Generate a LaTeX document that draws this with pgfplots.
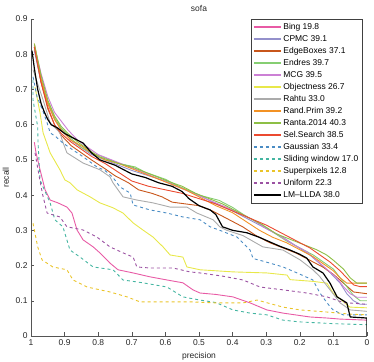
\documentclass[border=0pt]{standalone}
\usepackage{fontspec}
\setmainfont{Liberation Sans}
\usepackage{pgfplots}
\pgfplotsset{compat=1.18}
\definecolor{cBing}{HTML}{E85AA5}
\definecolor{cCPMC}{HTML}{9490CB}
\definecolor{cEdge}{HTML}{C8561B}
\definecolor{cEndres}{HTML}{86CE72}
\definecolor{cMCG}{HTML}{CC80D5}
\definecolor{cObj}{HTML}{E8E84A}
\definecolor{cRahtu}{HTML}{ABABAB}
\definecolor{cRand}{HTML}{F39224}
\definecolor{cRanta}{HTML}{8DBF45}
\definecolor{cSel}{HTML}{EB4A30}
\definecolor{cGauss}{HTML}{4A8CC4}
\definecolor{cSlide}{HTML}{44B5A1}
\definecolor{cSuper}{HTML}{EAC42A}
\definecolor{cUni}{HTML}{9B51A2}
\definecolor{cAxis}{HTML}{555555}

\begin{document}
\begin{tikzpicture}
\begin{axis}[
  name=ax,
  scale only axis,
  width=336bp, height=317bp,
  x dir=reverse,
  xmin=0, xmax=1, ymin=0, ymax=0.9,
  xtick={0,0.1,...,1}, ytick={0,0.1,...,0.9},
  axis lines*=left,
  axis line style={cAxis, line width=0.5pt},
  tick style={cAxis, line width=0.5pt},
  tick align=inside,
  major tick length=3.5bp,
  tick label style={font=\fontsize{8.5}{10}\selectfont, text=black!85},
  /pgf/number format/assume math mode=true,
  xlabel={precision}, ylabel={recall},
  label style={font=\fontsize{8.5}{10}\selectfont, text=black!85},
  title={sofa},
  title style={font=\fontsize{8.5}{10}\selectfont, text=black!85, yshift=-2bp},
  legend cell align=left,
  legend style={name=leg, at={(rel axis cs:0.985,1.0)}, anchor=north east,
    draw=none, fill=white, font=\fontsize{8.5}{10}\selectfont,
    row sep=0pt, inner sep=2bp,
    nodes={text height=7bp, text depth=2bp, inner sep=1.5bp}},
  legend image code/.code={\draw[#1, line width=1.9pt] plot coordinates {(0bp,0bp) (27bp,0bp)};},
  every axis plot/.append style={line width=0.9pt, line join=round},
]
\addplot[color=cBing] coordinates {
(0.99,0.55) (0.985,0.52) (0.973,0.472) (0.958,0.415) (0.943,0.386) (0.92,0.378)
(0.893,0.366) (0.878,0.349) (0.863,0.301) (0.845,0.273) (0.815,0.253) (0.795,0.236)
(0.765,0.207) (0.741,0.188) (0.696,0.179) (0.646,0.168) (0.595,0.159) (0.548,0.151)
(0.518,0.131) (0.497,0.122) (0.45,0.118) (0.399,0.111) (0.348,0.094) (0.298,0.074)
(0.25,0.065) (0.17,0.054) (0.119,0.051) (0.08,0.048) (0.0,0.045)
};
\addlegendentry{Bing 19.8}
\addplot[color=cCPMC] coordinates {
(0.99,0.81) (0.97,0.72) (0.95,0.66) (0.93,0.615) (0.91,0.585) (0.88,0.555)
(0.85,0.535) (0.82,0.515) (0.78,0.50) (0.74,0.485) (0.70,0.47) (0.65,0.455)
(0.60,0.44) (0.55,0.42) (0.50,0.40) (0.45,0.375) (0.40,0.355) (0.35,0.33)
(0.30,0.305) (0.25,0.28) (0.21,0.255) (0.17,0.23) (0.14,0.205) (0.11,0.18)
(0.08,0.15) (0.06,0.12) (0.04,0.10) (0.02,0.09) (0.0,0.09)
};
\addlegendentry{CPMC 39.1}
\addplot[color=cEdge] coordinates {
(0.99,0.82) (0.97,0.72) (0.95,0.645) (0.93,0.60) (0.91,0.57) (0.88,0.54)
(0.85,0.52) (0.82,0.50) (0.78,0.475) (0.75,0.455) (0.71,0.435) (0.68,0.415)
(0.64,0.405) (0.61,0.395) (0.58,0.38) (0.54,0.375) (0.50,0.37) (0.46,0.355)
(0.42,0.335) (0.37,0.31) (0.33,0.285) (0.29,0.265) (0.25,0.25) (0.21,0.235)
(0.17,0.215) (0.13,0.195) (0.10,0.175) (0.07,0.15) (0.04,0.125) (0.0,0.12)
};
\addlegendentry{EdgeBoxes 37.1}
\addplot[color=cEndres] coordinates {
(0.99,0.82) (0.97,0.73) (0.95,0.665) (0.93,0.62) (0.91,0.59) (0.88,0.56)
(0.85,0.535) (0.82,0.52) (0.79,0.51) (0.74,0.49) (0.69,0.48) (0.66,0.465)
(0.60,0.445) (0.56,0.425) (0.50,0.40) (0.44,0.385) (0.40,0.365) (0.36,0.34)
(0.32,0.32) (0.28,0.295) (0.24,0.27) (0.20,0.25) (0.16,0.23) (0.13,0.21)
(0.10,0.19) (0.08,0.165) (0.06,0.14) (0.04,0.115) (0.02,0.10) (0.0,0.10)
};
\addlegendentry{Endres 39.7}
\addplot[color=cMCG] coordinates {
(0.99,0.825) (0.97,0.745) (0.95,0.68) (0.93,0.635) (0.91,0.61) (0.89,0.585)
(0.86,0.555) (0.83,0.535) (0.80,0.515) (0.76,0.50) (0.72,0.485) (0.68,0.47)
(0.63,0.45) (0.58,0.43) (0.53,0.41) (0.48,0.39) (0.43,0.37) (0.38,0.35)
(0.34,0.33) (0.30,0.305) (0.26,0.285) (0.22,0.26) (0.18,0.24) (0.15,0.215)
(0.12,0.19) (0.09,0.165) (0.07,0.14) (0.05,0.12) (0.03,0.11) (0.0,0.11)
};
\addlegendentry{MCG 39.5}
\addplot[color=cObj] coordinates {
(0.988,0.707) (0.973,0.633) (0.964,0.577) (0.943,0.52) (0.914,0.472) (0.899,0.443)
(0.884,0.435) (0.863,0.415) (0.824,0.395) (0.795,0.378) (0.756,0.364) (0.726,0.349)
(0.696,0.321) (0.667,0.301) (0.637,0.281) (0.607,0.253) (0.586,0.23) (0.548,0.224)
(0.536,0.196) (0.497,0.188) (0.399,0.182) (0.298,0.179) (0.238,0.173) (0.229,0.16)
(0.16,0.155) (0.119,0.15) (0.101,0.122) (0.051,0.082) (0.0,0.08)
};
\addlegendentry{Objectness 26.7}
\addplot[color=cRahtu] coordinates {
(0.994,0.756) (0.964,0.67) (0.943,0.605) (0.914,0.577) (0.905,0.55) (0.893,0.52)
(0.845,0.491) (0.795,0.472) (0.765,0.452) (0.756,0.435) (0.726,0.395) (0.685,0.386)
(0.637,0.378) (0.586,0.366) (0.536,0.366) (0.506,0.349) (0.458,0.33) (0.438,0.31)
(0.417,0.30) (0.369,0.285) (0.31,0.253) (0.25,0.244) (0.199,0.216) (0.161,0.188)
(0.14,0.168) (0.11,0.131) (0.08,0.094) (0.05,0.074) (0.0,0.07)
};
\addlegendentry{Rahtu 33.0}
\addplot[color=cRand] coordinates {
(0.99,0.83) (0.97,0.73) (0.95,0.66) (0.93,0.615) (0.91,0.585) (0.88,0.555)
(0.85,0.54) (0.82,0.52) (0.78,0.50) (0.74,0.49) (0.70,0.475) (0.66,0.46)
(0.62,0.445) (0.58,0.43) (0.54,0.415) (0.50,0.395) (0.45,0.37) (0.40,0.35)
(0.36,0.325) (0.32,0.30) (0.28,0.28) (0.24,0.265) (0.20,0.245) (0.16,0.225)
(0.13,0.205) (0.10,0.185) (0.08,0.165) (0.06,0.15) (0.0,0.15)
};
\addlegendentry{Rand.Prim 39.2}
\addplot[color=cRanta] coordinates {
(0.99,0.83) (0.97,0.74) (0.95,0.67) (0.93,0.625) (0.91,0.595) (0.89,0.575)
(0.86,0.55) (0.83,0.53) (0.80,0.51) (0.77,0.50) (0.74,0.49) (0.70,0.48)
(0.66,0.465) (0.62,0.45) (0.58,0.435) (0.55,0.425) (0.51,0.405) (0.47,0.39)
(0.43,0.375) (0.39,0.355) (0.35,0.335) (0.31,0.315) (0.27,0.29) (0.23,0.275)
(0.19,0.26) (0.15,0.245) (0.12,0.23) (0.10,0.215) (0.07,0.19) (0.05,0.165)
(0.03,0.15) (0.0,0.15)
};
\addlegendentry{Ranta.2014 40.3}
\addplot[color=cSel] coordinates {
(0.99,0.82) (0.97,0.72) (0.95,0.65) (0.93,0.60) (0.91,0.575) (0.88,0.55)
(0.85,0.53) (0.82,0.51) (0.78,0.49) (0.74,0.465) (0.70,0.44) (0.65,0.425)
(0.60,0.415) (0.55,0.405) (0.50,0.39) (0.45,0.375) (0.40,0.355) (0.35,0.335)
(0.30,0.315) (0.25,0.29) (0.21,0.27) (0.17,0.25) (0.14,0.23) (0.11,0.21)
(0.08,0.185) (0.06,0.165) (0.04,0.145) (0.02,0.14) (0.0,0.14)
};
\addlegendentry{Sel.Search 38.5}
\addplot[color=cGauss, dashed] coordinates {
(0.994,0.736) (0.982,0.679) (0.965,0.64) (0.952,0.605) (0.943,0.577) (0.925,0.565)
(0.905,0.548) (0.875,0.528) (0.845,0.509) (0.804,0.48) (0.78,0.47) (0.756,0.45)
(0.735,0.423) (0.705,0.406) (0.696,0.372) (0.646,0.358) (0.595,0.349) (0.548,0.338)
(0.497,0.33) (0.467,0.31) (0.438,0.30) (0.387,0.281) (0.348,0.244) (0.339,0.22)
(0.30,0.21) (0.25,0.196) (0.208,0.179) (0.161,0.159) (0.14,0.122) (0.119,0.094)
(0.101,0.074) (0.071,0.06) (0.04,0.06) (0.0,0.06)
};
\addlegendentry{Gaussian 33.4}
\addplot[color=cSlide, dashed] coordinates {
(0.994,0.727) (0.994,0.67) (0.98,0.594) (0.979,0.548) (0.973,0.443) (0.964,0.423)
(0.943,0.378) (0.929,0.33) (0.905,0.31) (0.884,0.244) (0.854,0.224) (0.815,0.196)
(0.756,0.188) (0.726,0.159) (0.667,0.151) (0.595,0.139) (0.548,0.111) (0.497,0.102)
(0.45,0.095) (0.399,0.074) (0.348,0.065) (0.298,0.06) (0.25,0.045) (0.2,0.04)
(0.1,0.035) (0.0,0.032)
};
\addlegendentry{Sliding window 17.0}
\addplot[color=cSuper, dashed] coordinates {
(0.994,0.32) (0.98,0.253) (0.967,0.216) (0.935,0.196) (0.893,0.188) (0.875,0.159)
(0.833,0.139) (0.765,0.125) (0.714,0.111) (0.676,0.097) (0.527,0.097) (0.45,0.094)
(0.369,0.094) (0.327,0.102) (0.25,0.082) (0.199,0.074) (0.119,0.068) (0.05,0.062)
(0.0,0.06)
};
\addlegendentry{Superpixels 12.8}
\addplot[color=cUni, dashed] coordinates {
(0.988,0.52) (0.975,0.45) (0.965,0.40) (0.952,0.349) (0.914,0.338) (0.893,0.31)
(0.845,0.301) (0.804,0.281) (0.765,0.253) (0.726,0.236) (0.696,0.224) (0.685,0.196)
(0.646,0.193) (0.577,0.193) (0.527,0.182) (0.497,0.179) (0.43,0.17) (0.369,0.159)
(0.318,0.139) (0.25,0.131) (0.179,0.122) (0.119,0.111) (0.07,0.095) (0.0,0.09)
};
\addlegendentry{Uniform 22.3}
\addplot[color=black, line width=1.2pt] coordinates {
(0.997,0.81) (0.99,0.76) (0.98,0.70) (0.97,0.66) (0.96,0.635) (0.95,0.615)
(0.94,0.60) (0.92,0.59) (0.90,0.575) (0.87,0.56) (0.845,0.548) (0.82,0.52)
(0.795,0.50) (0.75,0.485) (0.70,0.46) (0.66,0.45) (0.62,0.435) (0.58,0.425)
(0.55,0.41) (0.53,0.39) (0.50,0.37) (0.467,0.358) (0.45,0.345) (0.43,0.31)
(0.40,0.30) (0.357,0.293) (0.32,0.28) (0.289,0.267) (0.26,0.255) (0.229,0.244)
(0.2,0.232) (0.179,0.221) (0.161,0.196) (0.131,0.179) (0.11,0.15) (0.089,0.111)
(0.06,0.094) (0.05,0.054) (0.0,0.051) (0.0,0.0)
};
\addlegendentry{LM--LLDA 38.0}
\end{axis}
\draw[black!75, line width=0.5pt] (leg.south west) rectangle (leg.north east);
\pgfresetboundingbox
\path ([xshift=-31bp,yshift=-26bp]ax.south west) rectangle ([xshift=7bp,yshift=19bp]ax.north east);
\end{tikzpicture}
\end{document}
